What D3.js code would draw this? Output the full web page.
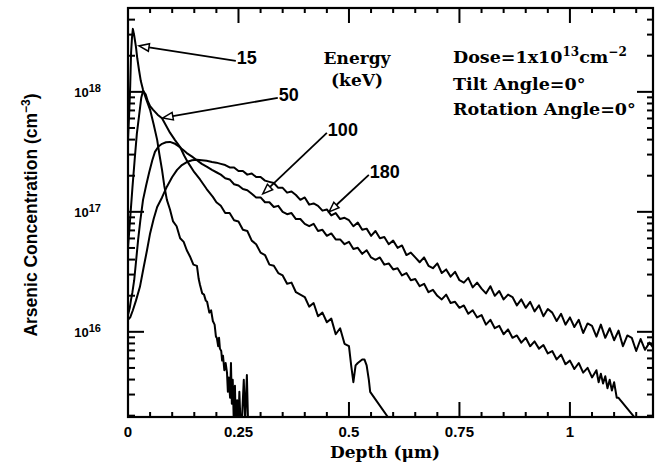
<!DOCTYPE html>
<html>
<head>
<meta charset="utf-8">
<script src="https://cdn.jsdelivr.net/npm/d3@7"></script>
<style>
body { margin: 0; background: #fff; }
svg { display: block; }
.sans { font-family: "Liberation Sans", Arial, sans-serif; font-weight: bold; }
.serif { font-family: "DejaVu Serif", serif; font-weight: bold; }
</style>
</head>
<body>
<svg class="chart" width="656" height="463"></svg>
<script>
// depth in um, concentration stored as log10(cm^-3)
const depth15 = [0, 0.003, 0.005, 0.007, 0.009, 0.011, 0.014, 0.018, 0.021, 0.025, 0.029, 0.034, 0.042, 0.05, 0.058, 0.066,
  0.071, 0.077, 0.082, 0.088, 0.095, 0.102, 0.11, 0.118, 0.126, 0.133, 0.14, 0.148, 0.156, 0.16, 0.163, 0.168, 0.172,
  0.176, 0.179, 0.184, 0.188, 0.192, 0.196, 0.199, 0.201, 0.204, 0.206, 0.208, 0.211, 0.213, 0.215, 0.218, 0.221,
  0.224, 0.226, 0.228, 0.231, 0.233, 0.235, 0.237, 0.239, 0.242, 0.244, 0.247, 0.25, 0.252, 0.254, 0.257, 0.262,
  0.265, 0.269, 0.272];
const log15 = [17.6, 17.85, 18.05, 18.33, 18.45, 18.525, 18.47, 18.375, 18.28, 18.18, 18.09, 18.017, 17.93, 17.85, 17.73, 17.6,
  17.48, 17.35, 17.22, 17.1, 17.02, 16.92, 16.88, 16.78, 16.75, 16.68, 16.63, 16.56, 16.55, 16.44, 16.39, 16.32, 16.31,
  16.26, 16.25, 16.16, 16.18, 16.09, 16.06, 15.96, 15.95, 15.88, 15.95, 15.86, 15.84, 15.76, 15.8, 15.68, 15.74,
  15.66, 15.5, 15.62, 15.45, 15.74, 15.4, 15.6, 15.3, 15.55, 15.2, 15.43, 15.25, 15.5, 15.3, 15.2, 15.6,
  15.25, 15.64, 15.2];

const depth50 = [0, 0.005, 0.01, 0.015, 0.02, 0.025, 0.03, 0.034, 0.04, 0.045, 0.05, 0.057, 0.067, 0.077, 0.086, 0.095,
  0.106, 0.118, 0.127, 0.136, 0.15, 0.163, 0.178, 0.192, 0.2, 0.21, 0.22, 0.23, 0.24, 0.25, 0.26, 0.27, 0.28, 0.29,
  0.3, 0.31, 0.32, 0.33, 0.34, 0.35, 0.36, 0.37, 0.38, 0.39, 0.4, 0.41, 0.42, 0.43, 0.44, 0.45, 0.46, 0.47, 0.48,
  0.49, 0.5, 0.505, 0.51, 0.515, 0.52, 0.53, 0.535, 0.54, 0.545, 0.548, 0.588, 0.6];
const log50 = [16.7, 16.95, 17.2, 17.43, 17.65, 17.8, 17.95, 18.008, 17.98, 17.92, 17.88, 17.85, 17.81, 17.78, 17.72, 17.66,
  17.6, 17.54, 17.47, 17.41, 17.33, 17.27, 17.19, 17.125, 17.08, 17.05, 16.99, 16.99, 16.93, 16.92, 16.85, 16.84, 16.76, 16.73,
  16.66, 16.64, 16.56, 16.55, 16.49, 16.47, 16.4, 16.41, 16.33, 16.31, 16.29, 16.21, 16.24, 16.13, 16.16, 16.08, 16.11, 15.98, 16.03,
  15.9, 15.88, 15.72, 15.58, 15.72, 15.74, 15.77, 15.77, 15.72, 15.6, 15.5, 15.29, 15.22];

const depth100 = [0, 0.004, 0.007, 0.01, 0.014, 0.018, 0.023, 0.028, 0.034, 0.041, 0.048, 0.055, 0.061, 0.069, 0.077, 0.086,
  0.095, 0.105, 0.115, 0.125, 0.133, 0.145, 0.156, 0.167, 0.179, 0.19, 0.2,
  0.21, 0.22, 0.23, 0.24, 0.25, 0.26, 0.27, 0.28, 0.29, 0.3, 0.31, 0.32, 0.33, 0.34, 0.35, 0.36, 0.37, 0.38, 0.39, 0.4,
  0.41, 0.42, 0.43, 0.44, 0.45, 0.46, 0.47, 0.48, 0.49, 0.5, 0.51, 0.52, 0.53, 0.54, 0.55, 0.56, 0.57, 0.58, 0.59, 0.6,
  0.61, 0.62, 0.63, 0.64, 0.65, 0.66, 0.67, 0.68, 0.69, 0.7, 0.71, 0.72, 0.73, 0.74, 0.75, 0.76, 0.77, 0.78, 0.79, 0.8,
  0.81, 0.82, 0.83, 0.84, 0.85, 0.86, 0.87, 0.88, 0.89, 0.9, 0.91, 0.92, 0.93, 0.94, 0.95, 0.96, 0.97, 0.98, 0.99, 1.0,
  1.01, 1.02, 1.03, 1.04, 1.05, 1.06, 1.065, 1.07, 1.075, 1.08, 1.085, 1.09, 1.095, 1.1, 1.106, 1.11, 1.17];
const log100 = [16.14, 16.2, 16.27, 16.33, 16.43, 16.58, 16.77, 16.93, 17.1, 17.22, 17.33, 17.43, 17.5, 17.545, 17.567, 17.58,
  17.583, 17.57, 17.545, 17.515, 17.49, 17.46, 17.43, 17.4, 17.375, 17.35, 17.33,
  17.31, 17.28, 17.27, 17.23, 17.22, 17.19, 17.18, 17.15, 17.12, 17.12, 17.08, 17.08, 17.04, 17.05, 17.0, 16.98, 16.99, 16.94, 16.94, 16.9,
  16.88, 16.9, 16.84, 16.85, 16.8, 16.82, 16.77, 16.77, 16.73, 16.75, 16.69, 16.7, 16.65, 16.68, 16.62, 16.6, 16.62, 16.56, 16.57, 16.52,
  16.53, 16.47, 16.49, 16.43, 16.44, 16.38, 16.4, 16.33, 16.35, 16.3, 16.27, 16.31, 16.24, 16.25, 16.2, 16.22, 16.15, 16.18, 16.12, 16.14,
  16.06, 16.1, 16.03, 16.05, 15.98, 16.02, 15.95, 15.97, 15.91, 15.95, 15.88, 15.92, 15.86, 15.89, 15.82, 15.84, 15.77, 15.81, 15.73, 15.76,
  15.69, 15.74, 15.66, 15.7, 15.62, 15.68, 15.58, 15.65, 15.57, 15.63, 15.53, 15.6, 15.51, 15.58, 15.45, 15.45, 15.18];

const depth180 = [0, 0.005, 0.011, 0.018, 0.027, 0.035, 0.043, 0.05, 0.058, 0.066, 0.077, 0.088, 0.1, 0.111, 0.122, 0.133,
  0.145, 0.156, 0.167, 0.178, 0.19, 0.2,
  0.21, 0.22, 0.23, 0.24, 0.25, 0.26, 0.27, 0.28, 0.29, 0.3, 0.31, 0.32, 0.33, 0.34, 0.35, 0.36, 0.37, 0.38, 0.39, 0.4,
  0.41, 0.42, 0.43, 0.44, 0.45, 0.46, 0.47, 0.48, 0.49, 0.5, 0.51, 0.52, 0.53, 0.54, 0.55, 0.56, 0.57, 0.58, 0.59, 0.6,
  0.61, 0.62, 0.63, 0.64, 0.65, 0.66, 0.67, 0.68, 0.69, 0.7, 0.71, 0.72, 0.73, 0.74, 0.75, 0.76, 0.77, 0.78, 0.79, 0.8,
  0.81, 0.82, 0.83, 0.84, 0.85, 0.86, 0.87, 0.88, 0.89, 0.9, 0.91, 0.92, 0.93, 0.94, 0.95, 0.96, 0.97, 0.98, 0.99, 1.0,
  1.01, 1.02, 1.03, 1.04, 1.05, 1.06, 1.07, 1.08, 1.09, 1.1, 1.11, 1.12, 1.13, 1.14, 1.15, 1.16, 1.17, 1.18, 1.19];
const log180 = [16.1, 16.12, 16.18, 16.26, 16.375, 16.53, 16.68, 16.82, 16.94, 17.04, 17.12, 17.21, 17.29, 17.35, 17.39, 17.415,
  17.43, 17.435, 17.43, 17.425, 17.415, 17.41,
  17.4, 17.39, 17.37, 17.37, 17.34, 17.34, 17.31, 17.32, 17.29, 17.29, 17.26, 17.25, 17.24, 17.2, 17.2, 17.16, 17.17, 17.14, 17.1, 17.12,
  17.06, 17.07, 17.05, 17.01, 17.02, 16.97, 16.99, 16.94, 16.95, 16.93, 16.88, 16.91, 16.85, 16.86, 16.8, 16.84, 16.78, 16.79, 16.73, 16.76,
  16.7, 16.72, 16.64, 16.66, 16.62, 16.58, 16.62, 16.55, 16.53, 16.57, 16.49, 16.52, 16.46, 16.5, 16.43, 16.41, 16.45, 16.37, 16.41, 16.36,
  16.32, 16.38, 16.3, 16.34, 16.27, 16.31, 16.29, 16.22, 16.27, 16.2, 16.25, 16.17, 16.22, 16.13, 16.19, 16.16, 16.09, 16.15, 16.06, 16.12,
  16.04, 16.1, 15.99, 16.07, 16.05, 15.96, 16.06, 15.95, 16.03, 15.93, 16.01, 15.88, 15.97, 15.95, 15.84, 15.94, 15.85, 15.91, 15.86];

const energies = ["15", "50", "100", "180"];
// arrow tail (at label) and tip (on curve), [depth, log10 conc]
const arrowTail = [[0.244, 18.258], [0.339, 17.95], [0.450, 17.658], [0.545, 17.308]];
const arrowTip = [[0.025, 18.383], [0.079, 17.783], [0.305, 17.15], [0.455, 17.0]];

const xTickValues = [0, 0.25, 0.5, 0.75, 1];
const xTickLabels = ["0", "0.25", "0.5", "0.75", "1"];
const yDecades = [16, 17, 18];

const pLeft = 128, pRight = 653, pTop = 8, pBottom = 417;

const svg = d3.select(".chart");

const x = d3.scaleLinear().domain([0, 1.188]).range([pLeft, pRight]);
const y = d3.scaleLog().domain([1.95e15, 5e18]).range([pBottom, pTop]);
const yl = v => y(Math.pow(10, v));

svg.append("defs").append("clipPath").attr("id", "plotClip")
  .append("rect").attr("x", pLeft).attr("y", pTop).attr("width", pRight - pLeft).attr("height", pBottom - pTop);

// tick values
const xMinor = d3.range(0, 1.19, 0.05).filter(v => Math.abs(v / 0.25 - Math.round(v / 0.25)) > 0.01);
const yMinor = [];
for (let e = 15; e <= 18; e++) for (let m = 2; m <= 9; m++) {
  const v = m * Math.pow(10, e);
  if (v >= 1.95e15 && v <= 5e18) yMinor.push(v);
}
const yMajor = yDecades.map(d => Math.pow(10, d));

// x tick labels
svg.append("g").selectAll("text").data(xTickValues).enter().append("text")
  .attr("class", "sans").attr("font-size", 15).attr("text-anchor", "middle")
  .attr("x", d => x(d)).attr("y", 437).text((d, i) => xTickLabels[i]);

// y tick labels 10^n
yDecades.forEach(d => {
  const t = svg.append("text").attr("class", "sans").attr("text-anchor", "end")
    .attr("x", 101).attr("y", y(Math.pow(10, d)) + 5).attr("font-size", 13);
  t.append("tspan").text("10");
  t.append("tspan").attr("dy", -5).attr("font-size", 11).text(String(d));
});

// curves
const curves = [[depth15, log15], [depth50, log50], [depth100, log100], [depth180, log180]];
const lineGen = d3.line().x(d => x(d[0])).y(d => yl(d[1]));
svg.append("g").attr("clip-path", "url(#plotClip)")
  .selectAll("path").data(curves).enter().append("path")
  .attr("d", c => lineGen(c[0].map((v, i) => [v, c[1][i]])))
  .attr("fill", "none").attr("stroke", "#000").attr("stroke-width", 2)
  .attr("stroke-linejoin", "round");

// frame
svg.append("rect").attr("x", pLeft).attr("y", pTop).attr("width", pRight - pLeft).attr("height", pBottom - pTop)
  .attr("fill", "none").attr("stroke", "#000").attr("stroke-width", 2.2);

// arrows with labels
energies.forEach((lab, i) => {
  const x0 = x(arrowTail[i][0]), y0 = yl(arrowTail[i][1]);
  const x1 = x(arrowTip[i][0]), y1 = yl(arrowTip[i][1]);
  const ang = Math.atan2(y1 - y0, x1 - x0);
  const len = 10, hw = 3.8;
  const bx = x1 - len * Math.cos(ang), by = y1 - len * Math.sin(ang);
  svg.append("line").attr("x1", x0).attr("y1", y0).attr("x2", bx).attr("y2", by)
    .attr("stroke", "#000").attr("stroke-width", 1.8);
  const pts = [[x1, y1],
    [bx + hw * Math.sin(ang), by - hw * Math.cos(ang)],
    [bx - hw * Math.sin(ang), by + hw * Math.cos(ang)]];
  svg.append("polygon").attr("points", pts.map(p => p.join(",")).join(" "))
    .attr("fill", "#fff").attr("stroke", "#000").attr("stroke-width", 1.5);
  svg.append("text").attr("class", "sans").attr("font-size", 18)
    .attr("x", x0 + 1).attr("y", y0 + 3).text(lab);
});

// text block
svg.append("text").attr("class", "serif").attr("font-size", 17).attr("text-anchor", "middle")
  .attr("x", 357).attr("y", 64).text("Energy");
svg.append("text").attr("class", "serif").attr("font-size", 17).attr("text-anchor", "middle")
  .attr("x", 357).attr("y", 86).text("(keV)");

const dose = svg.append("text").attr("class", "serif").attr("font-size", 17.5).attr("x", 453).attr("y", 63);
dose.append("tspan").text("Dose=1x10");
dose.append("tspan").attr("dy", -7).attr("font-size", 12).text("13");
dose.append("tspan").attr("dy", 7).text("cm");
dose.append("tspan").attr("dy", -7).attr("font-size", 12).text("\u22122");
svg.append("text").attr("class", "serif").attr("font-size", 17.5).attr("x", 453).attr("y", 90).text("Tilt Angle=0\u00b0");
svg.append("text").attr("class", "serif").attr("font-size", 17.5).attr("x", 453).attr("y", 115).text("Rotation Angle=0\u00b0");

// axis titles
svg.append("text").attr("class", "serif").attr("font-size", 17).attr("text-anchor", "middle")
  .attr("x", 385).attr("y", 458).text("Depth (\u03bcm)");

const yt = svg.append("text").attr("class", "sans").attr("font-size", 17.5).attr("text-anchor", "middle")
  .attr("transform", "translate(37,215) rotate(-90)");
yt.append("tspan").text("Arsenic Concentration (cm");
yt.append("tspan").attr("dy", -7).attr("font-size", 12).text("\u22123");
yt.append("tspan").attr("dy", 7).text(")");

// inward ticks on all four sides as thin filled rects, drawn last
const tickG = svg.append("g").attr("fill", "#000");
function ticksX(vals, y0, len) {
  tickG.append("g").selectAll("rect").data(vals).enter().append("rect")
    .attr("x", d => x(d) - 1).attr("width", 2)
    .attr("y", len < 0 ? y0 + len : y0).attr("height", Math.abs(len));
}
function ticksY(vals, x0, len) {
  tickG.append("g").selectAll("rect").data(vals).enter().append("rect")
    .attr("y", d => y(d) - 1).attr("height", 2)
    .attr("x", len < 0 ? x0 + len : x0).attr("width", Math.abs(len));
}
ticksX(xTickValues, pBottom, -15);
ticksX(xMinor, pBottom, -5);
ticksX(xTickValues, pTop, 15);
ticksX(xMinor, pTop, 5);
ticksY(yMajor, pLeft, 16);
ticksY(yMinor, pLeft, 7);
ticksY(yMajor, pRight, -16);
ticksY(yMinor, pRight, -6);
</script>
</body>
</html>
